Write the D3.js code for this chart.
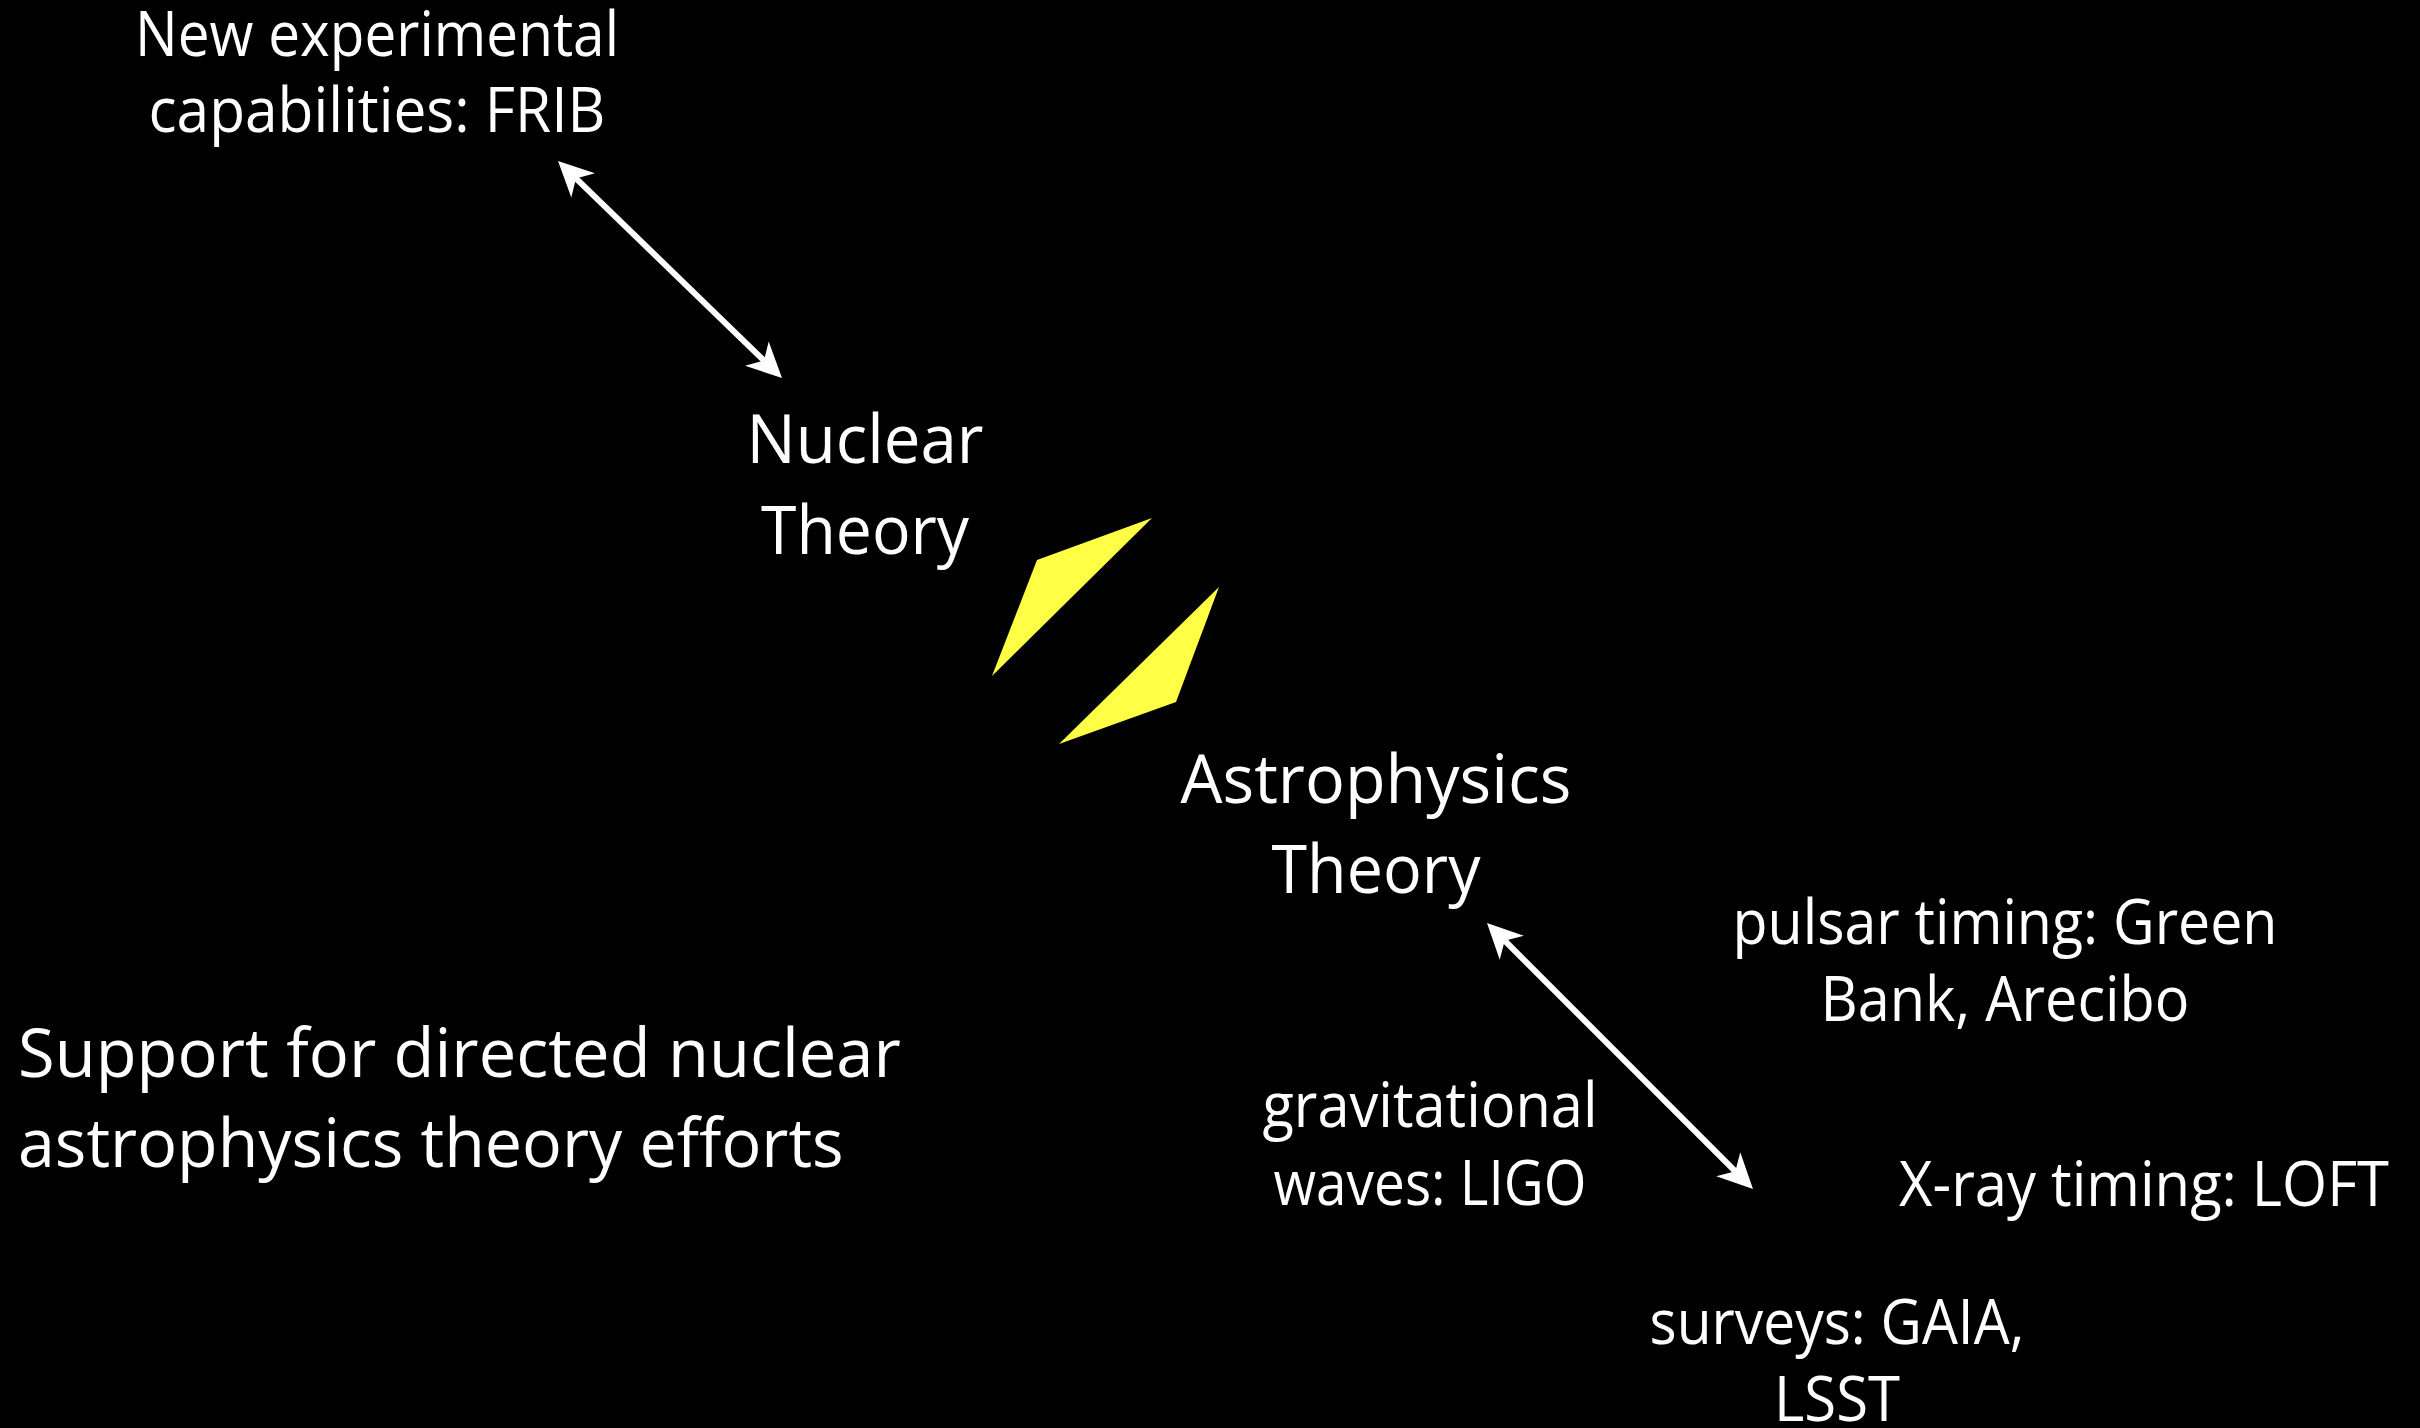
<!DOCTYPE html>
<html><head><meta charset="utf-8">
<script src="https://cdn.jsdelivr.net/npm/d3@7"></script>
<style>html,body{margin:0;padding:0;background:#000;overflow:hidden}svg{display:block}</style>
</head><body><svg id="c"></svg>
<script>
// ---- content ----
const labelText = [
  ["New experimental", "capabilities: FRIB"],
  ["Nuclear", "Theory"],
  ["Astrophysics", "Theory"],
  ["Support for directed nuclear", "astrophysics theory efforts"],
  ["pulsar timing: Green", "Bank, Arecibo"],
  ["gravitational", "waves: LIGO"],
  ["X-ray timing: LOFT"],
  ["surveys: GAIA,", "LSST"]
];
// ---- diagram values (slide coordinates, 2420 x 1428 units) ----
const labelAnchorX  = [377, 865, 1376, 20, 2005, 1430, 2144, 1837];
const labelFirstY   = [56, 463, 803, 1077, 944, 1127, 1206, 1344];
const labelLineStep = [76, 91, 90, 90, 77, 78, 0, 77];
const labelInkWidth = [[479, 452], [232, 203], [386, 204], [878, 821], [540, 364], [330, 308], [485], [370, 121]];
const labelIsLarge  = [false, true, true, true, false, false, false, false];
const labelAlign    = ["middle", "middle", "middle", "start", "middle", "middle", "middle", "middle"];

const arrowFrom = [[558, 161], [1487, 923]];
const arrowTo   = [[782, 378], [1753, 1189]];

const boltShapes = [
  [[1152, 518], [1037, 560], [992, 676]],
  [[1219, 587], [1176, 702], [1059, 744]]
];

// ---- drawing ----
const W = 2420, H = 1428;
const svg = d3.select("#c").attr("width", W).attr("height", H);
svg.append("rect").attr("width", W).attr("height", H).attr("fill", "#000");

const x = d3.scaleLinear().domain([0, 2420]).range([0, W]);
const y = d3.scaleLinear().domain([0, 1428]).range([0, H]);

// yellow shapes
const line = d3.line().x(d => x(d[0])).y(d => y(d[1])).curve(d3.curveLinearClosed);
svg.selectAll("path.bolt").data(boltShapes).join("path")
  .attr("class", "bolt").attr("d", line).attr("fill", "#ffff45");

// double-headed arrows
const headLen = 35, headHalf = 17, notch = 25;
arrowFrom.forEach((a, i) => {
  const b = arrowTo[i];
  const ax = x(a[0]), ay = y(a[1]), bx = x(b[0]), by = y(b[1]);
  const dx = bx - ax, dy = by - ay, L = Math.hypot(dx, dy);
  const ux = dx / L, uy = dy / L;
  svg.append("line")
    .attr("x1", ax + ux * notch).attr("y1", ay + uy * notch)
    .attr("x2", bx - ux * notch).attr("y2", by - uy * notch)
    .attr("stroke", "#fff").attr("stroke-width", 6);
  const head = (tx, ty, dirx, diry) => {
    const qx = -diry, qy = dirx;
    return [
      [tx, ty],
      [tx + dirx * headLen + qx * headHalf, ty + diry * headLen + qy * headHalf],
      [tx + dirx * notch, ty + diry * notch],
      [tx + dirx * headLen - qx * headHalf, ty + diry * headLen - qy * headHalf]
    ];
  };
  const poly = d3.line().curve(d3.curveLinearClosed);
  svg.append("path").attr("d", poly(head(ax, ay, ux, uy))).attr("fill", "#fff");
  svg.append("path").attr("d", poly(head(bx, by, -ux, -uy))).attr("fill", "#fff");
});

// labels: natural text, horizontally scaled to the measured ink width
const fontFamily = "'Open Sans', 'Noto Sans', sans-serif";
labelText.forEach((lines, i) => {
  const size = labelIsLarge[i] ? 68 : 62;
  lines.forEach((t, j) => {
    const anchorX = x(labelAnchorX[i]) - (labelAlign[i] === "start" ? 2 : 0);
    const by = y(labelFirstY[i] + j * labelLineStep[i]);
    const txt = svg.append("text")
      .attr("x", 0).attr("y", 0)
      .attr("text-anchor", labelAlign[i])
      .attr("font-family", fontFamily)
      .attr("font-size", size)
      .attr("fill", "#fff")
      .text(t);
    const natural = txt.node().getComputedTextLength();
    const sx = natural > 0 ? (labelInkWidth[i][j] + 5) / natural : 1;
    txt.attr("transform", `translate(${anchorX},${by}) scale(${sx},1)`);
  });
});
</script>
</body></html>
